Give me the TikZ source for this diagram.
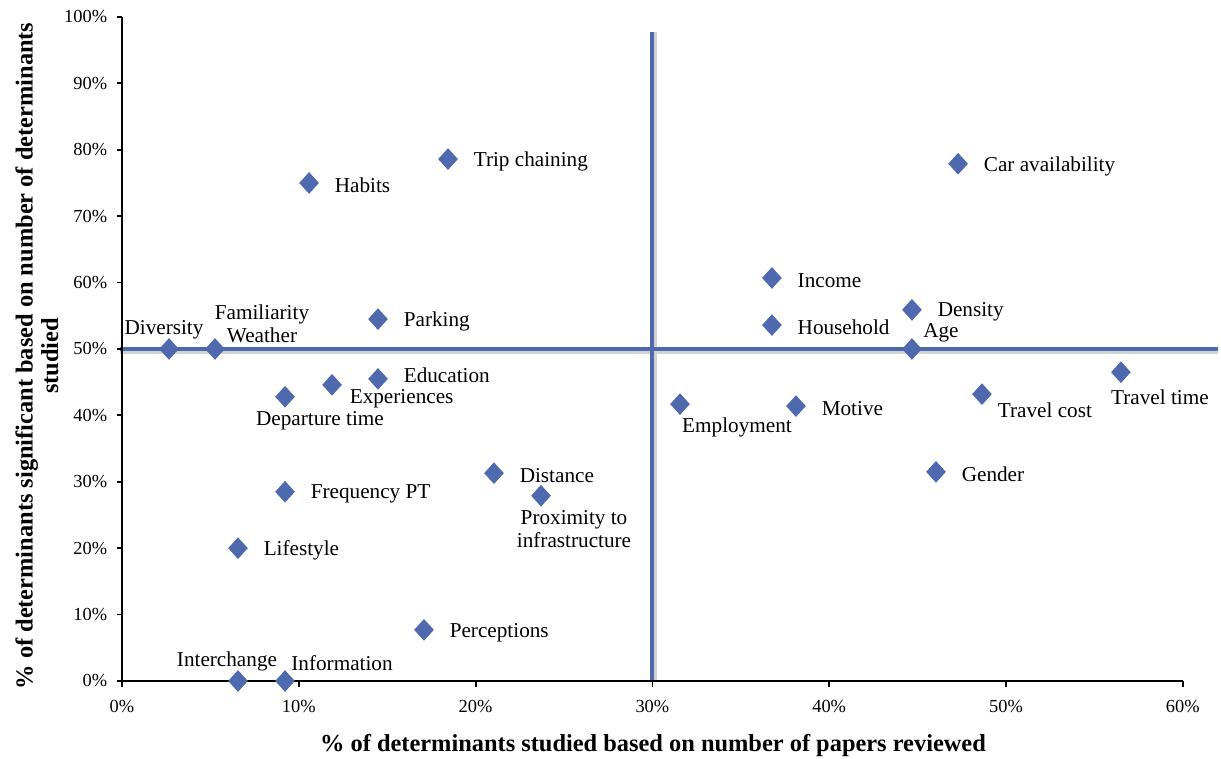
\documentclass[tikz,border=0pt]{standalone}
\usepackage{fontspec}
\setmainfont{Liberation Serif}
\usetikzlibrary{positioning,shapes.geometric}
\definecolor{qblue}{RGB}{79,105,175}

\begin{document}
\begin{tikzpicture}[x=0.5pt,y=0.5pt,
  every node/.style={inner sep=0pt},
  datum/.style={diamond,fill=qblue,minimum width=10pt,minimum height=11pt},
  lbl/.style={font=\fontsize{10.6}{11.5}\selectfont,align=center},
  rlbl/.style={lbl,yshift=-1.2pt},
  ticklbl/.style={font=\fontsize{9.2}{11}\selectfont},
  axtitle/.style={font=\fontsize{12.2}{12.7}\selectfont\bfseries,align=center}
]
\useasboundingbox (0,0) rectangle (1221,759);
\begin{scope}[shift={(122,78)},x=8.84pt,y=3.32pt]
% quadrant lines
\draw[gray!35,line width=2pt,yshift=-1.5pt] (-0.1,50) -- (62,50);
\draw[gray!35,line width=2pt,xshift=1.5pt] (30,0) -- (30,97.7);
\draw[qblue,line width=2pt] (-0.1,50) -- (62,50);
\draw[qblue,line width=2pt] (30,0) -- (30,97.7);
% axes
\draw[line width=0.9pt] (0,100) -- (0,0) -- (60,0);
\foreach \v in {0,10,...,100}
  \draw[line width=0.9pt] (0,\v) -- ++(-2.5pt,0) node[ticklbl,anchor=east,xshift=-4.5pt] (ytick\v) {\v\%};
\foreach \v in {0,10,...,60}
  \draw[line width=0.9pt] (\v,0) -- ++(0,-3pt) node[ticklbl,anchor=north,yshift=-6pt] (xtick\v) {\v\%};
% determinants
\node[datum] (diversity) at (2.66,50) {};
\node[datum] (familiarity) at (5.26,50) {};
\node[datum] (habits) at (10.58,75) {};
\node[datum] (tripchain) at (18.44,78.6) {};
\node[datum] (parking) at (14.48,54.5) {};
\node[datum] (education) at (14.48,45.5) {};
\node[datum] (experiences) at (11.88,44.6) {};
\node[datum] (departure) at (9.22,42.8) {};
\node[datum] (frequency) at (9.22,28.5) {};
\node[datum] (distance) at (21.04,31.3) {};
\node[datum] (proximity) at (23.7,27.9) {};
\node[datum] (lifestyle) at (6.56,20) {};
\node[datum] (perceptions) at (17.08,7.7) {};
\node[datum] (interchange) at (6.56,0) {};
\node[datum] (information) at (9.22,0) {};
\node[datum] (caravail) at (47.29,77.9) {};
\node[datum] (income) at (36.76,60.7) {};
\node[datum] (household) at (36.76,53.6) {};
\node[datum] (density) at (44.68,55.9) {};
\node[datum] (age) at (44.68,50) {};
\node[datum] (traveltime) at (56.5,46.5) {};
\node[datum] (travelcost) at (48.64,43.2) {};
\node[datum] (employment) at (31.56,41.7) {};
\node[datum] (motive) at (38.12,41.4) {};
\node[datum] (gender) at (46.04,31.5) {};
% labels
\node[lbl,above=-1pt of diversity,xshift=-2.5pt] (lab-diversity) {Diversity};
\node[lbl,above=-3pt of familiarity,xshift=23.5pt] (lab-familiarity) {Familiarity\\Weather};
\node[rlbl,right=7.5pt of habits] (lab-habits) {Habits};
\node[rlbl,right=7.5pt of tripchain] (lab-tripchain) {Trip chaining};
\node[rlbl,right=7.5pt of parking] (lab-parking) {Parking};
\node[lbl,right=7.5pt of education,yshift=2pt] (lab-education) {Education};
\node[lbl,right=3.5pt of experiences,yshift=-7pt] (lab-experiences) {Experiences};
\node[lbl,below=1.5pt of departure,xshift=17.5pt] (lab-departure) {Departure time};
\node[rlbl,right=7.5pt of frequency] (lab-frequency) {Frequency PT};
\node[rlbl,right=7.5pt of distance] (lab-distance) {Distance};
\node[lbl,below=1.5pt of proximity,xshift=16.5pt] (lab-proximity) {Proximity to\\infrastructure};
\node[rlbl,right=7.5pt of lifestyle] (lab-lifestyle) {Lifestyle};
\node[rlbl,right=7.5pt of perceptions] (lab-perceptions) {Perceptions};
\node[lbl,above=-1pt of interchange,xshift=-5.5pt] (lab-interchange) {Interchange};
\node[lbl,above=-1pt of information,xshift=28.5pt] (lab-information) {Information};
\node[rlbl,right=7.5pt of caravail] (lab-caravail) {Car availability};
\node[rlbl,right=7.5pt of income] (lab-income) {Income};
\node[rlbl,right=7.5pt of household] (lab-household) {Household};
\node[rlbl,right=7.5pt of density] (lab-density) {Density};
\node[lbl,above=-2.5pt of age,xshift=14.5pt] (lab-age) {Age};
\node[lbl,below=3pt of traveltime,xshift=19.5pt] (lab-traveltime) {Travel time};
\node[lbl,below=-1.5pt of travelcost,xshift=31.5pt] (lab-travelcost) {Travel cost};
\node[lbl,below=1pt of employment,xshift=28.5pt] (lab-employment) {Employment};
\node[rlbl,right=7.5pt of motive] (lab-motive) {Motive};
\node[rlbl,right=7.5pt of gender] (lab-gender) {Gender};
\end{scope}
% axis titles
\node[axtitle] (xtitle) at (653,13) {\% of determinants studied based on number of papers reviewed};
\node[axtitle,rotate=90] (ytitle) at (37,403) {\% of determinants significant based on number of determinants\\studied};
\end{tikzpicture}
\end{document}
